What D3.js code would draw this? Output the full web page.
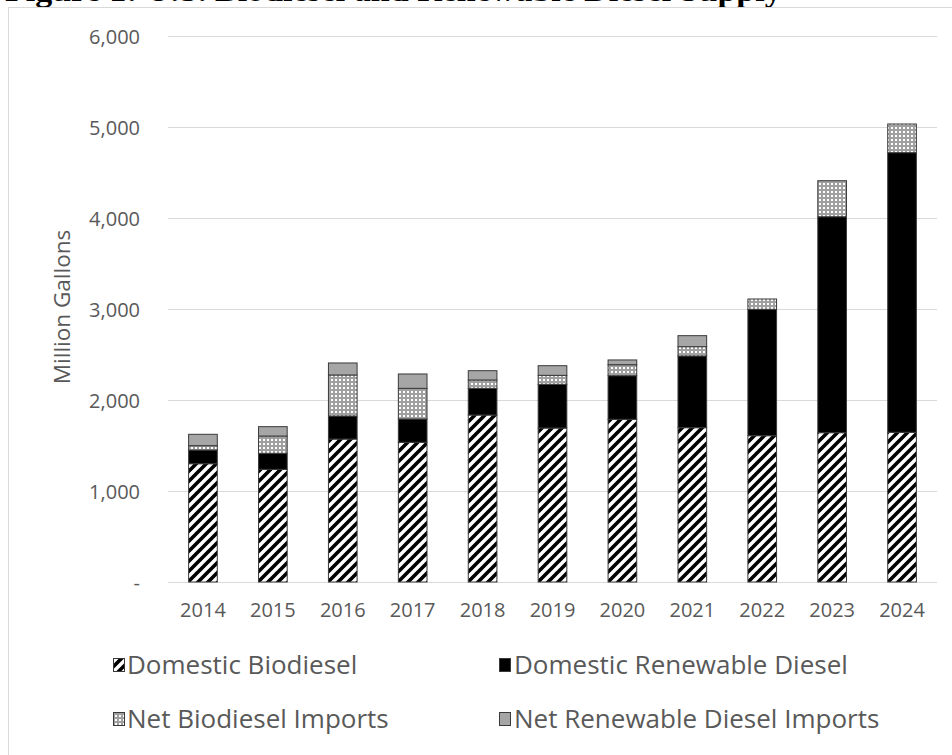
<!DOCTYPE html>
<html>
<head>
<meta charset="utf-8">
<script src="https://cdn.jsdelivr.net/npm/d3@7"></script>
<style>
  html, body { margin: 0; padding: 0; background: #fff; }
  svg { display: block; }
  .lbl { font-family: "Open Sans", Lato, sans-serif; fill: #595959; }
</style>
</head>
<body>
<svg id="chart" width="952" height="755"></svg>
<script>
// Supply by year, million gallons
const years = ["2014", "2015", "2016", "2017", "2018", "2019", "2020", "2021", "2022", "2023", "2024"];
const domesticBiodiesel   = [1300, 1238, 1571, 1535, 1835, 1692, 1788, 1696, 1608, 1641, 1645];
const domesticRenewable   = [150, 176, 253, 256, 293, 480, 479, 788, 1388, 2373, 3073];
const netBiodieselImports = [48, 190, 451, 337, 92, 99, 121, 102, 114, 396, 315];
const netRenewableImports = [125, 103, 132, 158, 102, 106, 52, 121, 0, 0, 0];

const seriesNames = ["Domestic Biodiesel", "Domestic Renewable Diesel", "Net Biodiesel Imports", "Net Renewable Diesel Imports"];
const seriesKeys = ["db", "rd", "bdi", "rdi"];
const yTicks = [0, 1000, 2000, 3000, 4000, 5000, 6000];
const titleText = "Figure 1: U.S. Biodiesel and Renewable Diesel Supply";

const rows = years.map((y, i) => ({
  year: y,
  db: domesticBiodiesel[i],
  rd: domesticRenewable[i],
  bdi: netBiodieselImports[i],
  rdi: netRenewableImports[i]
}));

const svg = d3.select("#chart");
const defs = svg.append("defs");

// Wide upward diagonal hatch
const hatch = defs.append("pattern")
  .attr("id", "hatch").attr("patternUnits", "userSpaceOnUse")
  .attr("width", 10).attr("height", 10);
hatch.append("rect").attr("width", 10).attr("height", 10).attr("fill", "#fff");
hatch.append("path")
  .attr("d", "M-2.5,2.5 L2.5,-2.5 M0,10 L10,0 M7.5,12.5 L12.5,7.5")
  .attr("stroke", "#000").attr("stroke-width", 3.6);

// Small ring dots
const dots = defs.append("pattern")
  .attr("id", "dots").attr("patternUnits", "userSpaceOnUse")
  .attr("width", 4).attr("height", 4);
dots.append("rect").attr("width", 4).attr("height", 4).attr("fill", "#fff");
dots.append("circle").attr("cx", 2).attr("cy", 2).attr("r", 1.3)
  .attr("fill", "#fff").attr("stroke", "#222").attr("stroke-width", 0.7);

const fills = {
  db: "url(#hatch)",
  rd: "#000",
  bdi: "url(#dots)",
  rdi: "#a6a6a6"
};

// Document heading, cut off above the chart frame
svg.append("text")
  .attr("x", 5).attr("y", 1)
  .attr("font-family", "'Liberation Serif', 'Times New Roman', serif")
  .attr("font-weight", "bold")
  .attr("font-size", 34)
  .attr("fill", "#000")
  .text(titleText);

// Chart frame
svg.append("rect")
  .attr("x", 8.5).attr("y", 7.5)
  .attr("width", 1000).attr("height", 800)
  .attr("fill", "#fff").attr("stroke", "#d9d9d9");

const plot = { left: 168, right: 937, top: 36, bottom: 582 };

const x = d3.scaleBand()
  .domain(years)
  .range([plot.left, plot.right])
  .paddingInner(0.59)
  .paddingOuter(0.295);

const y = d3.scaleLinear()
  .domain([0, 6000])
  .range([plot.bottom, plot.top]);

// Gridlines
svg.append("g")
  .selectAll("line")
  .data(yTicks)
  .join("line")
  .attr("x1", plot.left).attr("x2", plot.right)
  .attr("y1", d => Math.round(y(d)) + 0.5)
  .attr("y2", d => Math.round(y(d)) + 0.5)
  .attr("stroke", "#d9d9d9").attr("stroke-width", 1.2);

// Y axis labels
const yAxis = d3.axisLeft(y)
  .tickValues(yTicks)
  .tickSize(0)
  .tickPadding(0)
  .tickFormat(d => d === 0 ? "-" : d3.format(",")(d));
const yg = svg.append("g")
  .attr("transform", "translate(140,0)")
  .call(yAxis);
yg.select(".domain").remove();
yg.selectAll("text")
  .attr("class", "lbl")
  .attr("font-size", 20)
  .attr("dy", "0.35em");

// X axis labels
const xAxis = d3.axisBottom(x).tickSize(0).tickPadding(0);
const xg = svg.append("g")
  .attr("transform", `translate(0,${plot.bottom})`)
  .call(xAxis);
xg.select(".domain").remove();
xg.selectAll("text")
  .attr("class", "lbl")
  .attr("font-size", 20)
  .attr("y", 28)
  .attr("dy", "0.35em");

// Axis title
svg.append("text")
  .attr("class", "lbl")
  .attr("transform", "translate(62,307) rotate(-90)")
  .attr("text-anchor", "middle")
  .attr("dy", "0.35em")
  .attr("font-size", 22.5)
  .text("Million Gallons");

// Stacked bars
const stacked = d3.stack().keys(seriesKeys)(rows);

svg.append("g")
  .selectAll("g")
  .data(stacked)
  .join("g")
  .attr("fill", d => fills[d.key])
  .selectAll("rect")
  .data(d => d.filter(s => s[1] - s[0] > 0))
  .join("rect")
  .attr("x", d => x(d.data.year))
  .attr("width", x.bandwidth())
  .attr("y", d => y(d[1]))
  .attr("height", d => y(d[0]) - y(d[1]))
  .attr("stroke", "#3a3a3a")
  .attr("stroke-width", 1);

// Legend
const legendPos = [
  { sx: 113, tx: 127, y: 665 },
  { sx: 499, tx: 514, y: 665 },
  { sx: 113, tx: 127, y: 719 },
  { sx: 499, tx: 514, y: 719 }
];
const legend = svg.append("g");
seriesKeys.forEach((k, i) => {
  const p = legendPos[i];
  legend.append("rect")
    .attr("x", p.sx + 0.5).attr("y", p.y - 6.5)
    .attr("width", 11).attr("height", 13)
    .attr("fill", fills[k])
    .attr("stroke", "#3a3a3a").attr("stroke-width", 1);
  legend.append("text")
    .attr("class", "lbl")
    .attr("x", p.tx).attr("y", p.y)
    .attr("dy", "0.35em")
    .attr("font-size", 26)
    .text(seriesNames[i]);
});
</script>
</body>
</html>
